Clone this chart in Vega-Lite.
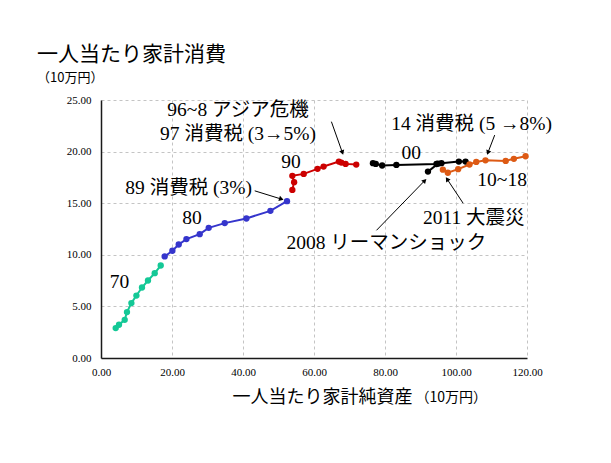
{
  "$schema": "https://vega.github.io/schema/vega-lite/v6.json",
  "width": 426,
  "height": 258,
  "autosize": {"type": "none"},
  "padding": {"left": 101, "top": 100, "right": 84, "bottom": 105},
  "background": "white",
  "title": {
    "text": "一人当たり家計消費",
    "subtitle": "（10万円）",
    "anchor": "start",
    "frame": "group",
    "dx": -64,
    "offset": 9,
    "font": "Noto Sans CJK JP",
    "fontSize": 21,
    "fontWeight": "normal",
    "color": "black",
    "subtitleFont": "Noto Sans CJK JP",
    "subtitleFontSize": 13,
    "subtitleColor": "black",
    "subtitlePadding": 7
  },
  "config": {
    "view": {"stroke": null},
    "axis": {
      "grid": true,
      "gridDash": [3, 3],
      "gridColor": "#c4c4c4",
      "gridWidth": 1,
      "ticks": false,
      "domain": true,
      "domainColor": "#1a1a1a",
      "domainWidth": 1.5,
      "domainDash": [],
      "labelFont": "Liberation Serif",
      "labelFontSize": 11,
      "labelColor": "black",
      "labelFlush": false,
      "labelOverlap": false,
      "labelBound": false,
      "format": ".2f",
      "zindex": 1
    }
  },
  "datasets": {
    "series": [
      {"year": 1970, "g": "70s", "seg": "a", "x": 4.14, "y": 2.90},
      {"year": 1971, "g": "70s", "seg": "a", "x": 5.07, "y": 3.22},
      {"year": 1972, "g": "70s", "seg": "a", "x": 6.68, "y": 3.70},
      {"year": 1973, "g": "70s", "seg": "a", "x": 7.32, "y": 4.45},
      {"year": 1974, "g": "70s", "seg": "a", "x": 8.56, "y": 5.32},
      {"year": 1975, "g": "70s", "seg": "a", "x": 9.97, "y": 6.05},
      {"year": 1976, "g": "70s", "seg": "a", "x": 11.55, "y": 6.83},
      {"year": 1977, "g": "70s", "seg": "a", "x": 13.24, "y": 7.51},
      {"year": 1978, "g": "70s", "seg": "a", "x": 15.13, "y": 8.22},
      {"year": 1979, "g": "70s", "seg": "a", "x": 16.82, "y": 8.96},
      {"year": 1980, "g": "80s", "seg": "a", "x": 17.94, "y": 9.84},
      {"year": 1981, "g": "80s", "seg": "a", "x": 20.11, "y": 10.39},
      {"year": 1982, "g": "80s", "seg": "a", "x": 21.89, "y": 11.00},
      {"year": 1983, "g": "80s", "seg": "a", "x": 24.06, "y": 11.52},
      {"year": 1984, "g": "80s", "seg": "a", "x": 27.8, "y": 12.0},
      {"year": 1985, "g": "80s", "seg": "a", "x": 30.34, "y": 12.61},
      {"year": 1986, "g": "80s", "seg": "a", "x": 34.85, "y": 13.07},
      {"year": 1987, "g": "80s", "seg": "a", "x": 40.96, "y": 13.52},
      {"year": 1988, "g": "80s", "seg": "a", "x": 47.72, "y": 14.26},
      {"year": 1989, "g": "80s", "seg": "a", "x": 52.39, "y": 15.20},
      {"year": 1990, "g": "90s", "seg": "a", "x": 53.9, "y": 16.29},
      {"year": 1991, "g": "90s", "seg": "a", "x": 54.4, "y": 17.04},
      {"year": 1992, "g": "90s", "seg": "a", "x": 53.9, "y": 17.65},
      {"year": 1993, "g": "90s", "seg": "a", "x": 57.1, "y": 17.84},
      {"year": 1994, "g": "90s", "seg": "a", "x": 61.0, "y": 18.33},
      {"year": 1995, "g": "90s", "seg": "a", "x": 62.7, "y": 18.55},
      {"year": 1996, "g": "90s", "seg": "a", "x": 67.0, "y": 19.03},
      {"year": 1997, "g": "90s", "seg": "a", "x": 67.7, "y": 18.94},
      {"year": 1998, "g": "90s", "seg": "a", "x": 68.9, "y": 18.81},
      {"year": 1999, "g": "90s", "seg": "a", "x": 71.9, "y": 18.74},
      {"year": 2000, "g": "00s", "seg": "a", "x": 76.6, "y": 18.88},
      {"year": 2001, "g": "00s", "seg": "a", "x": 77.4, "y": 18.81},
      {"year": 2002, "g": "00s", "seg": "a", "x": 79.2, "y": 18.65},
      {"year": 2003, "g": "00s", "seg": "a", "x": 83.2, "y": 18.71},
      {"year": 2004, "g": "00s", "seg": "a", "x": 94.5, "y": 18.80},
      {"year": 2005, "g": "00s", "seg": "a", "x": 95.9, "y": 18.88},
      {"year": 2006, "g": "00s", "seg": "a", "x": 100.8, "y": 19.03},
      {"year": 2007, "g": "00s", "seg": "a", "x": 102.7, "y": 19.03},
      {"year": 2008, "g": "00s", "seg": "b", "x": 92.1, "y": 18.06},
      {"year": 2009, "g": "00s", "seg": "b", "x": 94.9, "y": 18.83},
      {"year": 2010, "g": "10s", "seg": "a", "x": 96.3, "y": 18.25},
      {"year": 2011, "g": "10s", "seg": "a", "x": 97.7, "y": 17.95},
      {"year": 2012, "g": "10s", "seg": "a", "x": 100.6, "y": 18.3},
      {"year": 2013, "g": "10s", "seg": "a", "x": 103.8, "y": 18.75},
      {"year": 2014, "g": "10s", "seg": "a", "x": 105.7, "y": 19.0},
      {"year": 2015, "g": "10s", "seg": "a", "x": 108.3, "y": 19.15},
      {"year": 2016, "g": "10s", "seg": "a", "x": 114.0, "y": 19.1},
      {"year": 2017, "g": "10s", "seg": "a", "x": 116.3, "y": 19.3},
      {"year": 2018, "g": "10s", "seg": "a", "x": 119.6, "y": 19.55}
    ],
    "arrows": [
      {"xs": 64.9, "ys": 22.9, "x": 68.0, "y": 19.9},
      {"xs": 43.3, "ys": 16.2, "x": 50.8, "y": 15.4},
      {"xs": 77.6, "ys": 12.37, "x": 91.2, "y": 17.19},
      {"xs": 102.0, "ys": 15.0, "x": 97.5, "y": 17.33},
      {"xs": 110.9, "ys": 21.6, "x": 109.0, "y": 19.9}
    ],
    "labels": [
      {"t": "96~8 アジア危機", "x": 38.6, "y": 24.0},
      {"t": "97 消費税 (3→5%)", "x": 38.6, "y": 21.7},
      {"t": "89 消費税 (3%)", "x": 24.7, "y": 16.45},
      {"t": "70", "x": 5.2, "y": 7.32},
      {"t": "80", "x": 25.6, "y": 13.55},
      {"t": "90", "x": 53.5, "y": 19.03},
      {"t": "00", "x": 87.4, "y": 19.85},
      {"t": "10~18", "x": 113.0, "y": 17.26},
      {"t": "2011 大震災", "x": 105.0, "y": 13.55},
      {"t": "2008 リーマンショック", "x": 80.4, "y": 11.13},
      {"t": "14 消費税 (5 →8%)", "x": 104.4, "y": 22.7}
    ],
    "unit": [
      {"t": "（10万円）", "x": 88.6, "y": -3.9}
    ]
  },
  "encoding": {
    "x": {
      "field": "x", "type": "quantitative",
      "scale": {"domain": [0, 120], "nice": false, "zero": true},
      "axis": {
        "values": [0, 20, 40, 60, 80, 100, 120],
        "title": "一人当たり家計純資産",
        "titleFont": "Noto Sans CJK JP",
        "titleFontSize": 18,
        "titleFontWeight": "normal",
        "titleColor": "black",
        "titleAlign": "left",
        "titleAnchor": null,
        "titleX": 131,
        "titleY": 39,
        "titleBaseline": "middle",
        "labelPadding": 8
      }
    },
    "y": {
      "field": "y", "type": "quantitative",
      "scale": {"domain": [0, 25], "nice": false},
      "axis": {
        "values": [0, 5, 10, 15, 20, 25],
        "title": null,
        "labelPadding": 10
      }
    }
  },
  "layer": [
    {
      "data": {"name": "series"},
      "mark": {"type": "line", "strokeWidth": 2},
      "encoding": {
        "color": {
          "field": "g", "type": "nominal",
          "scale": {"domain": ["70s", "80s", "90s", "00s", "10s"], "range": ["#14c896", "#3535cc", "#cc0000", "#000000", "#dd5a14"]},
          "legend": null
        },
        "detail": {"field": "seg"},
        "order": {"field": "year", "type": "quantitative"}
      }
    },
    {
      "data": {"name": "series"},
      "mark": {"type": "point", "filled": true, "opacity": 1, "size": 40},
      "encoding": {
        "color": {"field": "g", "type": "nominal", "legend": null}
      }
    },
    {
      "data": {"name": "arrows"},
      "mark": {"type": "rule", "color": "black", "strokeWidth": 1},
      "encoding": {
        "x2": {"field": "xs"},
        "y2": {"field": "ys"}
      }
    },
    {
      "data": {"name": "arrows"},
      "transform": [
        {"calculate": "atan2((datum.x - datum.xs) * 3.55, (datum.y - datum.ys) * 10.32) * 180 / PI", "as": "ang"}
      ],
      "mark": {"type": "point", "shape": "triangle-up", "filled": true, "color": "black", "opacity": 1, "size": 28},
      "encoding": {
        "angle": {"field": "ang", "type": "quantitative", "scale": null}
      }
    },
    {
      "data": {"name": "labels"},
      "mark": {"type": "text", "font": "Liberation Serif, Noto Sans CJK JP", "fontSize": 19.5, "color": "black", "align": "center", "baseline": "middle"},
      "encoding": {
        "text": {"field": "t"}
      }
    },
    {
      "data": {"name": "unit"},
      "mark": {"type": "text", "font": "Noto Sans CJK JP", "fontSize": 14, "color": "black", "align": "left", "baseline": "middle"},
      "encoding": {
        "text": {"field": "t"}
      }
    }
  ]
}
